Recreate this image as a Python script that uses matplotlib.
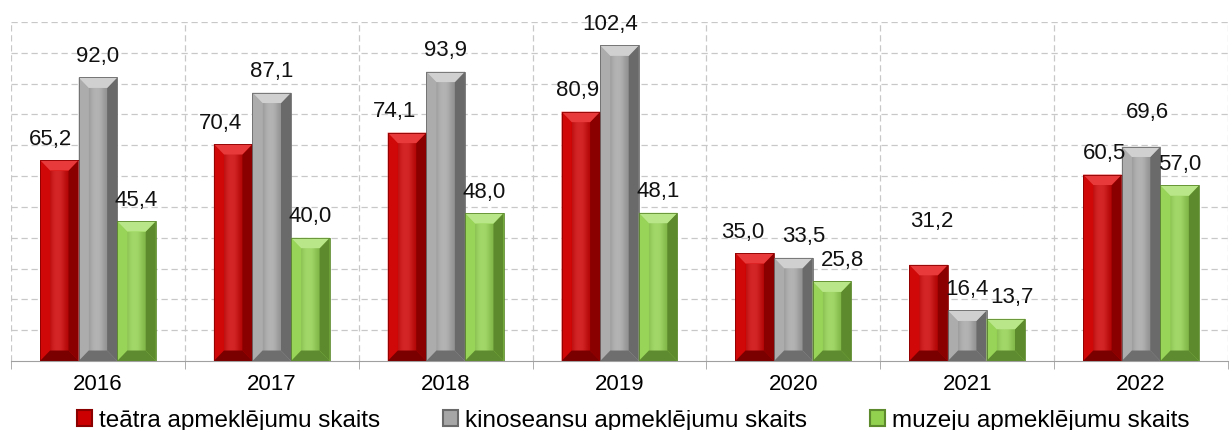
import numpy as np
import matplotlib.pyplot as plt
from matplotlib.patches import Polygon, Rectangle

plt.rcParams['font.family'] = ['Liberation Sans', 'DejaVu Sans']

years = ['2016', '2017', '2018', '2019', '2020', '2021', '2022']
teatri = [65.2, 70.4, 74.1, 80.9, 35.0, 31.2, 60.5]
kino = [92.0, 87.1, 93.9, 102.4, 33.5, 16.4, 69.6]
muzeji = [45.4, 40.0, 48.0, 48.1, 25.8, 13.7, 57.0]
names = ['teātra apmeklējumu skaits', 'kinoseansu apmeklējumu skaits', 'muzeju apmeklējumu skaits']

# base, top bevel, left, right, bottom
palettes = [
    ('#CC0000', '#E83A3A', '#D00808', '#8A0000', '#7A0000'),
    ('#A6A6A6', '#D0D0D0', '#ACACAC', '#6A6A6A', '#6E6E6E'),
    ('#92D050', '#B8E688', '#98D458', '#5C8A2C', '#5E8A30'),
]

# label nudges (pixels) like Excel's automatic placement
nudge = {(0, 0): (-9, 0), (0, 1): (-13, 0), (0, 2): (-12, 0), (0, 3): (-3, 0),
         (0, 4): (-12, 0), (0, 5): (3, 22), (0, 6): (2, 0),
         (1, 3): (-9, 0), (1, 4): (10, 0), (1, 6): (6, 13),
         (2, 4): (11, 0), (2, 5): (6, 0)}

fig = plt.figure(figsize=(12.3, 4.3), dpi=100)
ax = fig.add_axes([11/1230, 69/430, 1217/1230, 339/430])

n = len(years)
x = np.arange(n)
w = 0.222
ymax = 110
bx = 0.058  # bevel width in x units
by = 3.4    # bevel height in y units

series = [teatri, kino, muzeji]
for i, (vals, pal) in enumerate(zip(series, palettes)):
    base, top, left, right, bot = pal
    xs = x + (i - 1) * w
    bars = ax.bar(xs, vals, width=w, color=base, edgecolor='none', zorder=3)
    for j, (r, v) in enumerate(zip(bars, vals)):
        x0, x1 = r.get_x(), r.get_x() + r.get_width()
        y0, y1 = 0, v
        b = min(by, v / 2)
        polys = [
            ([(x0, y0), (x0 + bx, y0 + b), (x0 + bx, y1 - b), (x0, y1)], left),
            ([(x1, y0), (x1 - bx, y0 + b), (x1 - bx, y1 - b), (x1, y1)], right),
            ([(x0, y1), (x1, y1), (x1 - bx, y1 - b), (x0 + bx, y1 - b)], top),
            ([(x0, y0), (x1, y0), (x1 - bx, y0 + b), (x0 + bx, y0 + b)], bot),
        ]
        for pts, c in polys:
            ax.add_patch(Polygon(pts, closed=True, facecolor=c, edgecolor='none', zorder=4))
        # soft shading across the face
        grad = np.linspace(0, 1, 50)
        shade = np.exp(-((grad - 0.4) / 0.4) ** 2)[None, :]
        ax.imshow(shade, extent=(x0 + bx, x1 - bx, y0 + b, y1 - b),
                  cmap='Greys_r', alpha=0.15, aspect='auto', zorder=3.5,
                  vmin=0, vmax=1)
        ax.add_patch(Rectangle((x0, y0), x1 - x0, y1 - y0, fill=False,
                               edgecolor=right, linewidth=0.6, zorder=4.5))
        dx, dy = nudge.get((i, j), (0, 0))
        ax.annotate(f'{v:.1f}'.replace('.', ','), ((x0 + x1) / 2, v),
                    xytext=(dx * 0.72, (21 + dy) * 0.72), textcoords='offset points',
                    ha='center', va='center', fontsize=16, color='#111111', zorder=5)

ax.set_xlim(-0.5, n - 0.5)
ax.set_ylim(0, ymax)
ax.set_yticks(np.arange(10, ymax + 1, 10))
ax.set_yticklabels([])
ax.tick_params(axis='y', length=0)
ax.set_xticks(x)
ax.set_xticklabels(years, fontsize=16)
ax.set_xticks(np.arange(-0.5, n, 1), minor=True)
ax.tick_params(axis='x', which='major', length=0, pad=9)
ax.tick_params(axis='x', which='minor', length=6, color='#A0A0A0')
ax.grid(axis='y', which='major', linestyle=(0, (5, 3)), color='#C8C8C8', linewidth=0.9, zorder=0)
ax.grid(axis='x', which='minor', linestyle=(0, (5, 3)), color='#C8C8C8', linewidth=0.9, zorder=0)
for s in ['left', 'right', 'top']:
    ax.spines[s].set_visible(False)
ax.spines['bottom'].set_color('#A0A0A0')
ax.set_axisbelow(True)

handles = [Rectangle((0, 0), 1, 1, facecolor=p[0], edgecolor=p[3], linewidth=1.5) for p in palettes]
fig.legend(handles, names, loc='lower center', bbox_to_anchor=(0.515, -0.055), ncol=3,
           frameon=False, fontsize=17.5, handlelength=0.6, handleheight=0.6,
           handletextpad=0.3, columnspacing=2.6)

fig.savefig('out.png', dpi=100)
